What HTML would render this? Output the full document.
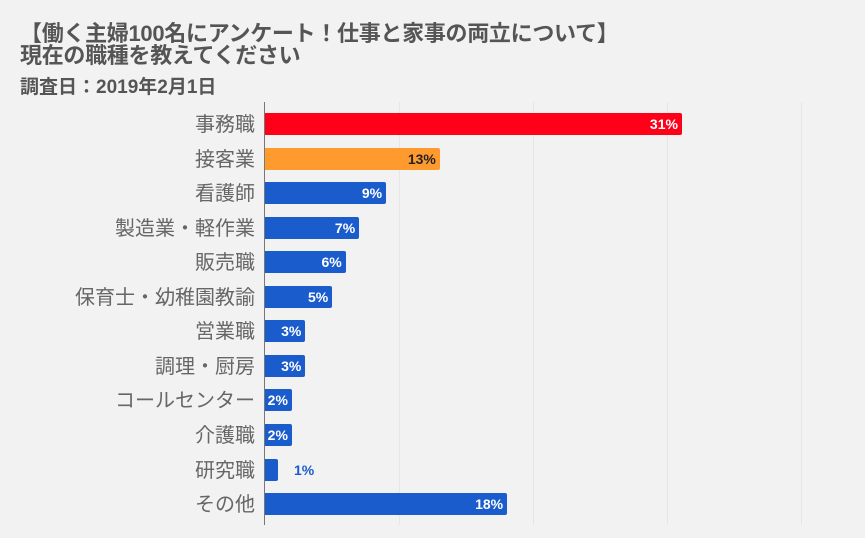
<!DOCTYPE html><html><head><meta charset="utf-8"><style>
body{margin:0;width:865px;height:538px;background:#f2f2f2;font-family:"Liberation Sans","Noto Sans CJK JP",sans-serif;overflow:hidden;position:relative}
.t{position:absolute;left:20px;color:#555;font-weight:bold;white-space:nowrap}
.lab{position:absolute;right:610px;color:#666;font-size:20px;white-space:nowrap;transform:translateY(-50%);line-height:20px;margin-top:1px}
.bar{position:absolute;left:265px;height:22px;border-radius:0 2px 2px 0;transform:translateY(-50%)}
.v{position:absolute;font-size:14px;font-weight:bold;color:#fff;transform:translateY(-50%);white-space:nowrap}
.g{position:absolute;top:102px;height:423px;width:1px;background:#e6e6e6}
</style></head><body>
<div class="t" style="top:23px;font-size:22px;line-height:22px;letter-spacing:-0.3px">【働く主婦100名にアンケート！仕事と家事の両立について】<br>現在の職種を教えてください</div>
<div class="t" style="top:72px;font-size:19px">調査日：2019年2月1日</div>
<div class="g" style="left:399px"></div><div class="g" style="left:533px"></div><div class="g" style="left:667px"></div><div class="g" style="left:801px"></div>
<div style="position:absolute;left:264px;top:102px;width:1px;height:423px;background:#777"></div>
<div id="c"></div>
<script>
var d=[["事務職",31,"#ff0018","#fff"],["接客業",13,"#ff9a2e","#222"],["看護師",9],["製造業・軽作業",7],["販売職",6],["保育士・幼稚園教諭",5],["営業職",3],["調理・厨房",3],["コールセンター",2],["介護職",2],["研究職",1],["その他",18]];
var h="";d.forEach(function(r,i){var y=124+i*34.55,w=r[1]*13.45,c=r[2]||"#1a5ccc",tc=r[3]||"#fff";
h+='<div class="lab" style="top:'+y+'px">'+r[0]+'</div><div class="bar" style="top:'+y+'px;width:'+w+'px;background:'+c+'"></div>';
if(r[1]>1)h+='<div class="v" style="top:'+y+'px;right:'+(865-265-w+4)+'px;color:'+tc+'">'+r[1]+'%</div>';
else h+='<div class="v" style="top:'+y+'px;left:294px;color:#1a5ccc">1%</div>';});
document.getElementById("c").innerHTML=h;
</script>
</body></html>
